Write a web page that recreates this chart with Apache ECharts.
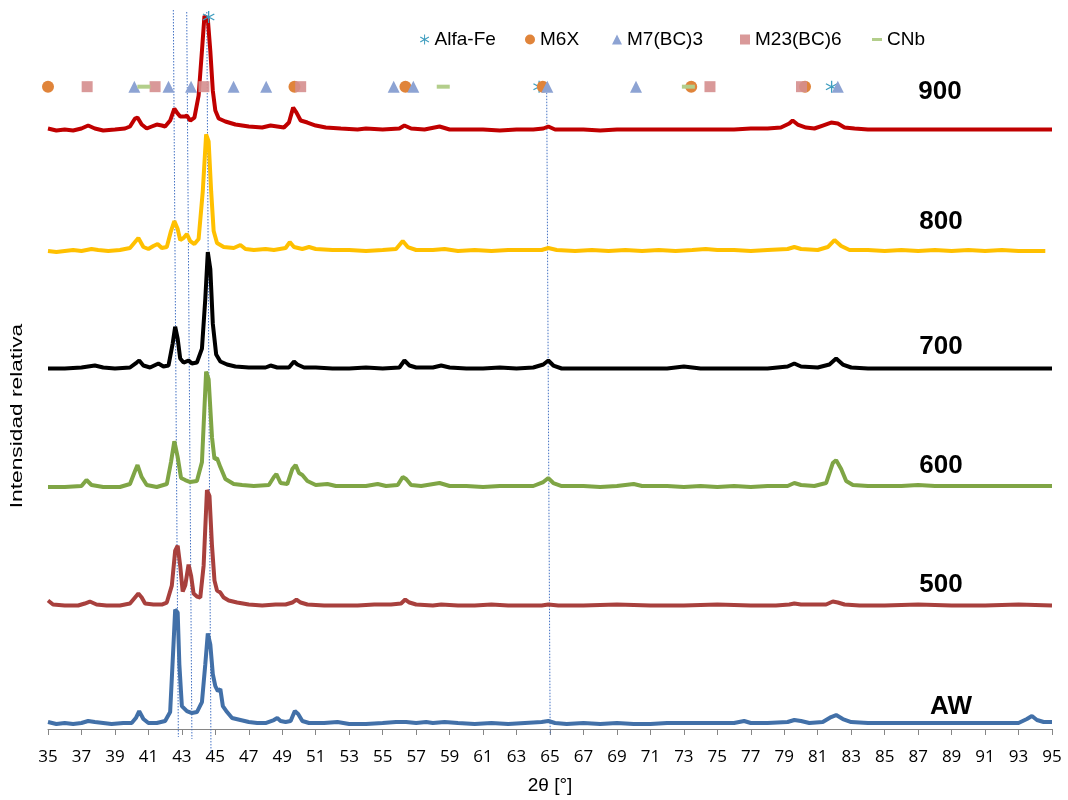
<!DOCTYPE html>
<html>
<head>
<meta charset="utf-8">
<title>DRX</title>
<script src="https://cdn.jsdelivr.net/npm/echarts@6/dist/echarts.min.js"></script>
<style>
    html, body { margin: 0; padding: 0; background: #fff; }
    #chart { width: 1068px; height: 800px; }
</style>
</head>
<body>
<div id="chart"></div>
<script>
// nombres de las curvas (de abajo hacia arriba)
const labels = ['AW', '500', '600', '700', '800', '900'];
// desplazamiento vertical de cada curva (intensidad relativa)
const offsets = [5, 124, 243, 362, 480, 601];

// [2θ, intensidad]
const ptsAW = [[35,2],[35.5,0],[36,1],[36.5,0],[37,1],[37.4,3],[37.8,2],[38.3,1],[38.8,0],[39.5,1],[40,1],[40.25,6],[40.45,13],[40.7,5],[41,1],[41.5,1],[42,3],[42.3,12],[42.5,80],[42.6,115],[42.75,112],[42.85,60],[43,18],[43.3,13],[43.6,11],[43.9,12],[44.2,22],[44.4,60],[44.55,91],[44.7,80],[44.85,50],[45,38],[45.15,33],[45.3,35],[45.45,18],[45.7,12],[46,6],[46.5,4],[47,2],[47.5,1],[48,1],[48.5,4],[48.7,6],[48.9,3],[49.2,2],[49.5,3],[49.75,13],[49.95,10],[50.2,3],[50.6,1],[51.5,1],[52.3,2],[53,0],[54,0],[55,1],[55.8,2],[56.4,2],[57,1],[57.6,2],[58,1],[58.7,2],[59.5,1],[60.5,0],[61.5,1],[62.5,0],[63.5,1],[64.5,2],[64.9,3],[65.3,1],[66,0],[67,1],[68,0],[69,1],[70,0],[71,0],[72,1],[73,1],[74,1],[75,1],[76,1],[76.6,3],[77,1],[78,1],[79.2,2],[79.6,4],[80,3],[80.5,1],[81.3,2],[81.8,7],[82.1,9],[82.5,5],[83,2],[84,1],[85,1],[86,1],[87,1],[88,1],[89,1],[90,1],[91,1],[92,1],[93,1],[93.5,5],[93.8,8],[94.1,4],[94.5,2],[95,2]];
const pts500 = [[35,5],[35.3,1],[36,0],[36.8,0],[37.2,2],[37.5,4],[37.9,1],[38.5,0],[39.3,0],[39.9,2],[40.2,8],[40.4,12],[40.6,8],[40.8,2],[41.3,1],[41.8,1],[42.1,3],[42.4,20],[42.6,55],[42.75,60],[42.9,40],[43.05,14],[43.2,20],[43.4,41],[43.55,30],[43.7,12],[43.9,9],[44.1,8],[44.3,40],[44.5,116],[44.65,110],[44.8,60],[44.95,25],[45.1,15],[45.3,13],[45.5,8],[45.8,5],[46.3,3],[47,1],[47.8,0],[48.6,1],[49.2,1],[49.6,3],[49.85,6],[50.1,3],[50.5,1],[51.5,0],[52.5,0],[53.5,0],[54.5,1],[55.5,1],[56.1,2],[56.35,6],[56.6,3],[57,1],[58,0],[58.5,1],[59.5,0],[60.5,0],[61.5,1],[62.5,0],[63.5,0],[64.5,0],[64.9,1],[65.5,0],[67,0],[69,1],[71,0],[73,0],[75,1],[77,0],[78.5,0],[79.3,1],[79.6,2],[80,1],[81.5,1],[81.9,4],[82.2,3],[82.6,1],[83.5,0],[85,0],[87,1],[89,0],[91,0],[93,1],[95,0]];
const pts600 = [[35,0],[36,0],[37,1],[37.3,7],[37.6,2],[38.3,0],[39.3,0],[39.9,3],[40.2,16],[40.35,22],[40.6,10],[40.9,2],[41.5,0],[42.1,3],[42.35,25],[42.55,46],[42.75,30],[42.95,9],[43.2,7],[43.5,5],[43.9,6],[44.2,25],[44.45,116],[44.6,108],[44.8,50],[44.95,28],[45.1,29],[45.3,20],[45.6,8],[46.1,3],[46.6,2],[47.3,1],[48.2,2],[48.5,10],[48.65,13],[48.9,4],[49.3,3],[49.6,18],[49.8,22],[50,14],[50.2,12],[50.5,6],[51,2],[51.7,3],[52.2,1],[53,1],[54,1],[54.7,3],[55.2,1],[55.9,2],[56.2,10],[56.4,8],[56.7,2],[57.3,1],[58.4,4],[59,1],[60,1],[61,0],[62,1],[63,1],[64,1],[64.6,5],[64.9,9],[65.2,4],[65.7,1],[67,1],[68,0],[69,1],[70,3],[70.5,1],[72,1],[73,0],[74,1],[75,0],[76,1],[77,0],[78,1],[79.2,1],[79.6,4],[80,2],[80.8,1],[81.5,4],[81.9,24],[82.1,27],[82.4,18],[82.7,6],[83.1,2],[84,1],[85,1],[86,1],[87,2],[88,1],[89,1],[90,1],[91,1],[92,1],[93,1],[94,1],[95,1]];
const pts700 = [[35,0],[36,0],[37,1],[37.8,3],[38.3,1],[39,0],[39.9,1],[40.3,6],[40.45,8],[40.7,3],[41.1,1],[41.6,5],[41.9,2],[42.2,3],[42.45,25],[42.6,42],[42.75,30],[42.9,10],[43.1,6],[43.4,8],[43.6,5],[43.9,6],[44.2,20],[44.4,70],[44.55,117],[44.7,100],[44.85,45],[45.05,14],[45.3,7],[45.7,4],[46.2,2],[47,1],[48,1],[48.3,3],[48.7,1],[49.4,1],[49.7,7],[49.9,4],[50.3,1],[51,1],[52,0],[53,0],[54,1],[55,0],[56,1],[56.3,8],[56.6,3],[57,1],[58,1],[58.5,3],[59,1],[60,0],[61,0],[62,1],[63,0],[64,1],[64.6,4],[64.9,8],[65.2,3],[65.7,0],[67,0],[68,0],[69,0],[70,0],[71,0],[72,0],[73,2],[73.5,1],[74,0],[75,0],[76,0],[77,0],[78,0],[79.2,2],[79.6,5],[80,2],[81,1],[81.7,4],[82.1,10],[82.5,4],[83,1],[84,0],[86,0],[88,0],[90,0],[92,0],[94,0],[95,0]];
const pts800 = [[35,0],[35.5,-1],[36,0],[36.5,1],[37,0],[37.6,2],[38,1],[38.6,0],[39.3,1],[39.9,3],[40.25,10],[40.4,13],[40.7,4],[41,2],[41.3,5],[41.55,7],[41.8,3],[42.1,4],[42.35,20],[42.55,30],[42.75,22],[42.9,11],[43.1,13],[43.3,17],[43.5,10],[43.75,7],[44,12],[44.25,60],[44.45,117],[44.6,110],[44.75,60],[44.9,20],[45.1,8],[45.5,4],[46.1,3],[46.5,6],[46.8,2],[47.3,1],[48,2],[48.5,1],[49.2,3],[49.45,9],[49.7,4],[50.2,2],[50.6,4],[51,2],[52,1],[53,1],[54,0],[55,1],[55.8,2],[56.2,10],[56.5,4],[57,1],[58,1],[58.7,2],[59.5,0],[60.5,1],[61.5,0],[62.5,1],[63.5,1],[64.5,1],[64.9,3],[65.4,1],[66.5,0],[67.5,1],[68.5,0],[69.5,1],[70.5,0],[71.5,1],[72.5,0],[73.5,1],[74.3,2],[75,1],[76,1],[77,0],[78,1],[79.2,2],[79.6,4],[80,2],[81,1],[81.6,4],[82,11],[82.4,5],[82.9,1],[84,1],[85,0],[86,1],[87,0],[88,1],[89,0],[90,1],[91,0],[92,1],[93,0],[94.6,0]];
const pts900 = [[35,2],[35.5,0],[36,1],[36.5,0],[37,2],[37.4,5],[37.8,2],[38.3,0],[39,1],[39.6,2],[39.9,4],[40.2,12],[40.35,13],[40.6,6],[40.9,2],[41.2,4],[41.5,6],[41.8,5],[42,4],[42.3,10],[42.55,22],[42.75,17],[42.9,14],[43.15,14],[43.3,15],[43.5,10],[43.75,13],[44,35],[44.2,80],[44.35,115],[44.55,112],[44.7,80],[44.85,40],[45,20],[45.2,12],[45.6,9],[46.2,6],[47,4],[47.8,3],[48.3,5],[48.7,4],[49.1,3],[49.4,8],[49.65,23],[49.85,18],[50.1,10],[50.5,8],[51,5],[51.6,3],[52.5,2],[53.5,1],[54,2],[55,1],[56,2],[56.3,5],[56.7,2],[57.5,1],[58.4,4],[59,1],[60,1],[61,1],[62,0],[63,1],[64,1],[64.6,2],[64.9,4],[65.3,1],[66,1],[67,1],[68,0],[69,1],[70,1],[71,1],[72,1],[73,1],[74,1],[75,1],[76,1],[77,2],[78,2],[78.8,3],[79.3,7],[79.5,10],[79.8,6],[80.3,3],[80.8,2],[81.3,5],[81.8,8],[82.2,7],[82.6,3],[83.2,2],[84,1],[85,1],[86,1],[87,1],[88,1],[89,1],[90,1],[91,1],[92,1],[93,1],[94,1],[95,1]];

// posiciones (2θ) de los picos de cada fase
const alfaFe = [64.35, 81.83];
const alfaFeTop = 44.6;
const m6x = [35.0, 49.73, 56.36, 64.57, 73.44, 80.24];
const m7bc3 = [40.16, 42.2, 43.55, 46.09, 48.04, 55.66, 56.83, 64.84, 70.14, 82.2];
const m23bc6 = [37.34, 41.4, 44.32, 50.1, 74.56, 80.03];
const cnb = [40.73, 58.62, 73.27];

// líneas de referencia punteadas: [2θ arriba, intensidad arriba, 2θ abajo, intensidad abajo]
const refLines = [
    [42.49, 722, 42.79, -8],
    [43.29, 720, 43.6, -10],
    [44.49, 720, 44.74, -25],
    [64.8, 648, 65.01, -6]
];

window.onload = function () {
    let chart = echarts.init(document.getElementById('chart'));

    const lineColors = ['#4270A8', '#A8403D', '#7FA545', '#000000', '#FFC000', '#C00000'];
    const allPts = [ptsAW, pts500, pts600, pts700, pts800, pts900];
    const rowY = 645;   // fila de marcadores de fases
    const font = 'Liberation Sans, Arial, sans-serif';

    const starPath = 'path://M-0.6,-6L0.6,-6L0.6,6L-0.6,6Z' +
        'M-4.9,-3.52L5.5,2.48L4.9,3.52L-5.5,-2.48Z' +
        'M-5.5,2.48L4.9,-3.52L5.5,-2.48L-4.9,3.52Z';
    const dashPath = 'path://M0,0L10,0L10,3L0,3Z';

    let series = [];

    // líneas punteadas (debajo de las curvas)
    refLines.forEach(l => {
        series.push({
            type: 'line',
            symbol: 'none',
            silent: true,
            clip: false,
            z: 1,
            lineStyle: { color: '#4472C4', width: 1, type: [1.5, 1.5] },
            data: [[l[0], l[1]], [l[2], l[3]]]
        });
    });

    // curvas de difracción
    for (let i = 0; i < labels.length; i++) {
        series.push({
            name: labels[i],
            type: 'line',
            symbol: 'none',
            silent: true,
            clip: false,
            z: 2 + i,
            lineStyle: { color: lineColors[i], width: 4 },
            data: allPts[i].map(p => [p[0], p[1] + offsets[i]])
        });
    }

    // marcadores de fases
    const mk = function (name, xs, symbol, size, color, z, opacity) {
        return {
            name: name,
            type: 'scatter',
            symbol: symbol,
            symbolSize: size,
            z: z,
            silent: true,
            itemStyle: { color: color, opacity: opacity || 1 },
            data: xs.map(x => [x, rowY])
        };
    };
    let sFe = mk('Alfa-Fe', alfaFe, starPath, 12, '#3E9DBF', 10);
    sFe.data.push([alfaFeTop, 715]);
    series.push(sFe);
    series.push(mk('M6X', m6x, 'circle', 12, '#E0843A', 11));
    series.push(mk('M7(BC)3', m7bc3, 'triangle', 12, '#8DA3D3', 12));
    series.push(mk('M23(BC)6', m23bc6, 'rect', 11, '#D58E8E', 13, 0.9));
    series.push(mk('CNb', cnb, dashPath, [13, 4], '#B3CE8B', 14));

    // leyenda: un componente por elemento
    const legItems = [
        ['Alfa-Fe', starPath, 420],
        ['M6X', 'circle', 525],
        ['M7(BC)3', 'triangle', 612],
        ['M23(BC)6', 'rect', 740],
        ['CNb', dashPath, 872]
    ];
    let legends = legItems.map(it => ({
        left: it[2],
        top: 30,
        itemWidth: 10,
        itemHeight: 10,
        itemGap: 0,
        selectedMode: false,
        data: [{ name: it[0], icon: it[1] }],
        textStyle: { fontFamily: font, fontSize: 19, color: '#000', padding: [0, 0, 0, 0] },
        padding: 0
    }));

    // etiquetas de cada curva
    const labelPos = [[951, 707], [941, 585], [941, 466], [941, 347], [941, 222], [940, 92]];
    let graphics = labels.map((t, i) => ({
        type: 'text',
        x: labelPos[i][0],
        y: labelPos[i][1],
        silent: true,
        style: {
            text: t,
            fill: '#000',
            font: 'bold 26px ' + font,
            textAlign: 'center',
            textVerticalAlign: 'middle'
        }
    }));
    // título del eje Y
    graphics.push({
        type: 'text',
        x: 18,
        y: 416,
        rotation: Math.PI / 2,
        scaleX: 1.42,
        silent: true,
        style: {
            text: 'Intensidad relativa',
            fill: '#000',
            font: '16px ' + font,
            textAlign: 'center',
            textVerticalAlign: 'middle'
        }
    });

    let option = {
        animation: false,
        backgroundColor: '#fff',
        grid: { left: 48, right: 16, top: 10, bottom: 68 },
        legend: legends,
        graphic: graphics,
        xAxis: {
            type: 'value',
            min: 35,
            max: 95,
            interval: 2,
            name: '2θ [°]',
            nameLocation: 'middle',
            nameGap: 47,
            nameTextStyle: { fontFamily: font, fontSize: 19, color: '#000' },
            axisLine: { lineStyle: { color: '#868686', width: 1 } },
            axisTick: { show: true, length: 6, lineStyle: { color: '#868686' } },
            axisLabel: { fontFamily: 'Open Sans', fontSize: 17, color: '#000', margin: 20 },
            splitLine: { show: false }
        },
        yAxis: {
            type: 'value',
            min: 0,
            max: 722,
            axisLine: { show: false },
            axisTick: { show: false },
            axisLabel: { show: false },
            splitLine: { show: false }
        },
        series: series
    };

    chart.setOption(option);
};
</script>
</body>
</html>
